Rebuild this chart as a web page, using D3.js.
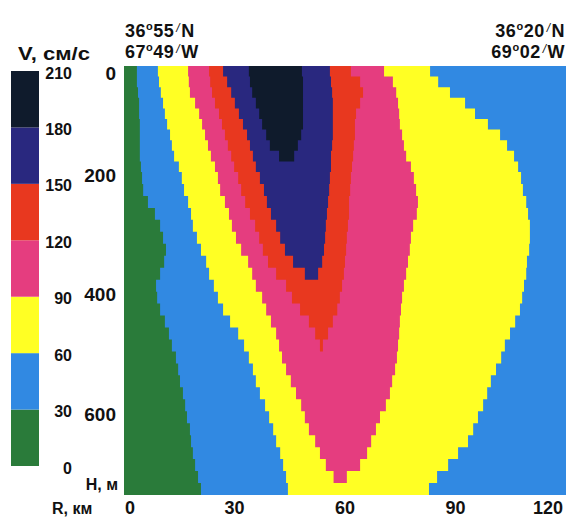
<!DOCTYPE html>
<html>
<head>
<meta charset="utf-8">
<script src="https://cdn.jsdelivr.net/npm/d3@7"></script>
<style>
  body { margin: 0; background: #fff; }
  svg text { font-family: "Liberation Sans", Arial, sans-serif; font-weight: bold; fill: #111; }
</style>
</head>
<body>
<div id="chart"></div>
<script>

////////// DATA //////////

// top of each grid row, m (every row is 20 m deep)
const depthRows = [0, 20, 40, 60, 80, 100, 120, 140, 160, 180, 200, 220, 240, 260, 280, 300, 320, 340, 360,
  380, 400, 420, 440, 460, 480, 500, 520, 540, 560, 580, 600, 620, 640, 660, 680, 700, 720];
const rowStep = 20;

// velocity classes, cm/s
const levels = [0, 30, 60, 90, 120, 150, 180, 210];
const levelColours = ["#2a7b3a", "#3189e2", "#ffff24", "#e53d7f", "#e8381f", "#29287f", "#0f1b2c"];

// range, km, where each isotach crosses a row: left side (L) and right side (R)
// arrays stop where the isotach closes
const iso30L = [3.5, 3.5, 3.8, 4.1, 4.1, 4.3, 4.3, 4.3, 4.3, 4.6, 4.9, 5.2, 6.5, 8.4, 9.8, 10.6, 11.4, 10.9, 9.8,
  8.7, 9.0, 9.8, 11.1, 12.2, 13.0, 14.1, 14.7, 15.2, 16.0, 16.6, 17.1, 17.9, 18.2, 18.7, 19.3, 20.1, 20.9];

const iso60L = [9.2, 9.5, 10.0, 10.6, 11.1, 11.7, 12.5, 13.0, 13.6, 14.9, 15.7, 16.3, 17.4, 18.2, 18.7, 19.8, 20.9,
  22.3, 23.1, 24.4, 25.5, 26.9, 28.8, 31.0, 32.6, 33.9, 35.0, 35.8, 36.9, 38.3, 39.4, 40.5, 41.3, 42.4, 43.2, 44.0, 44.5];
const iso60R = [83.1, 85.3, 88.5, 92.6, 95.3, 98.8, 102.1, 104.0, 105.9, 107.0, 107.8, 108.3, 109.2, 109.7, 110.2,
  110.2, 110.0, 109.4, 109.2, 108.6, 108.1, 107.5, 106.2, 104.8, 103.4, 102.4, 101.0, 99.6, 98.6, 97.5, 96.1, 94.8,
  93.4, 90.7, 88.0, 85.0, 82.8];

const iso90L = [17.4, 17.6, 17.9, 19.3, 20.4, 21.2, 22.0, 22.8, 23.6, 24.7, 25.5, 26.1, 27.4, 28.5, 29.3, 30.4, 31.8,
  33.7, 34.8, 35.8, 37.5, 38.6, 39.9, 41.3, 42.1, 42.9, 44.0, 45.3, 46.7, 48.1, 49.1, 50.2, 51.9, 53.2, 54.8, 56.9];
const iso90R = [70.6, 73.0, 73.9, 74.4, 74.7, 74.9, 75.5, 76.0, 76.6, 77.9, 78.7, 79.3, 79.8, 79.5, 78.5, 77.9, 77.6,
  77.1, 76.6, 76.0, 75.5, 75.2, 74.9, 74.7, 74.4, 74.1, 73.6, 72.8, 72.2, 71.1, 69.5, 68.4, 67.1, 66.0, 64.1, 60.5];

const iso120L = [23.1, 23.4, 23.9, 24.7, 25.8, 26.6, 27.4, 28.2, 29.1, 29.9, 31.0, 31.8, 32.9, 34.2, 35.6, 36.7, 37.7,
  39.1, 41.3, 44.0, 45.6, 47.8, 50.2, 51.9, 53.2];
const iso120R = [61.6, 64.1, 64.9, 64.1, 63.0, 62.7, 62.7, 62.4, 62.2, 61.9, 61.6, 61.4, 61.1, 61.1, 60.8, 60.5, 60.3,
  60.0, 59.7, 59.2, 58.6, 57.9, 56.7, 55.4, 54.0];

const iso150L = [26.9, 28.0, 29.1, 30.1, 31.2, 32.3, 33.4, 34.2, 35.0, 35.8, 36.9, 38.0, 38.8, 39.9, 41.3, 42.4, 43.7,
  45.9, 49.1];
const iso150R = [55.9, 56.2, 56.5, 56.7, 56.7, 56.7, 56.7, 56.5, 56.2, 56.2, 55.9, 55.7, 55.4, 55.1, 54.8, 54.6, 54.3,
  53.8, 52.7];

const iso180L = [33.9, 34.2, 34.8, 35.8, 36.7, 37.5, 38.6, 39.6, 42.1];
const iso180R = [48.3, 48.6, 48.6, 48.6, 48.6, 48.6, 48.1, 47.2, 46.2];

const isotachs = [
  { level: 30, left: iso30L, right: null },
  { level: 60, left: iso60L, right: iso60R },
  { level: 90, left: iso90L, right: iso90R },
  { level: 120, left: iso120L, right: iso120R },
  { level: 150, left: iso150L, right: iso150R },
  { level: 180, left: iso180L, right: iso180R }
];

const rangeTicks = [0, 30, 60, 90, 120];
const depthTicks = [0, 200, 400, 600];


////////// SETUP //////////

const width = 569, height = 518;

const svg = d3.select("#chart")
  .append("svg")
  .attr("width", width)
  .attr("height", height);

let x = d3.scaleLinear()
  .domain([0, 120])
  .range([124, 566]);

// depth axis of the original is not uniform above 200 m
let y = d3.scaleLinear()
  .domain([0, 200, 740])
  .range([66, 172, 495]);

let colour = d3.scaleThreshold()
  .domain(levels.slice(1, -1))
  .range(levelColours);


////////// SECTION //////////

svg.append("clipPath")
  .attr("id", "plot-clip")
  .append("rect")
  .attr("x", x(0))
  .attr("y", y(0))
  .attr("width", x(120) - x(0))
  .attr("height", y(740) - y(0));

let plot = svg.append("g")
  .attr("clip-path", "url(#plot-clip)");

// slowest class fills the whole section
plot.append("rect")
  .attr("x", x(0))
  .attr("y", y(0))
  .attr("width", x(120) - x(0))
  .attr("height", y(740) - y(0))
  .attr("fill", colour(0));

// stepped polygon: left side down the rows, right side back up
function band(left, right) {
  let pts = [];
  left.forEach((v, i) => {
    pts.push([x(v), y(depthRows[i])], [x(v), y(depthRows[i] + rowStep)]);
  });
  for (let i = left.length - 1; i >= 0; i--) {
    let r = right ? right[i] : x.domain()[1];
    pts.push([x(r), y(depthRows[i] + rowStep)], [x(r), y(depthRows[i])]);
  }
  return d3.line()(pts) + "Z";
}

plot.selectAll(".isotach")
  .data(isotachs)
  .enter()
  .append("path")
  .attr("class", "isotach")
  .attr("d", d => band(d.left, d.right))
  .attr("fill", d => colour(d.level));


////////// AXES //////////

svg.append("g")
  .selectAll("text")
  .data(depthTicks)
  .enter()
  .append("text")
  .attr("x", 116)
  .attr("y", d => y(d) + (d === 0 ? 7 : 3))
  .attr("dominant-baseline", "central")
  .attr("text-anchor", "end")
  .style("font-size", "19px")
  .text(d => d);

svg.append("g")
  .selectAll("text")
  .data(rangeTicks)
  .enter()
  .append("text")
  .attr("x", (d, i) => x(d) + (i === 0 ? 1 : (i === rangeTicks.length - 1 ? -3 : 0)))
  .attr("y", 514)
  .attr("text-anchor", (d, i) => i === 0 ? "start" : (i === rangeTicks.length - 1 ? "end" : "middle"))
  .style("font-size", "18px")
  .text(d => d);

svg.append("text")
  .attr("x", 118)
  .attr("y", 490)
  .attr("text-anchor", "end")
  .style("font-size", "16px")
  .text("H, м");

svg.append("text")
  .attr("x", 52)
  .attr("y", 514)
  .style("font-size", "16px")
  .text("R, км");


////////// LEGEND //////////

let yl = d3.scaleLinear()
  .domain([0, 210])
  .range([466, 71]);

let legend = svg.append("g").attr("class", "legend");

legend.selectAll("rect")
  .data(levels.slice(0, -1))
  .enter()
  .append("rect")
  .attr("x", 11)
  .attr("width", 28)
  .attr("y", (d, i) => yl(levels[i + 1]))
  .attr("height", (d, i) => yl(d) - yl(levels[i + 1]))
  .attr("fill", d => colour(d));

legend.selectAll("text")
  .data(levels)
  .enter()
  .append("text")
  .attr("x", 72)
  .attr("y", d => yl(d) + 2)
  .attr("dominant-baseline", "central")
  .attr("text-anchor", "end")
  .style("font-size", "16px")
  .text(d => d);

svg.append("text")
  .attr("x", 18)
  .attr("y", 60)
  .attr("textLength", 72)
  .attr("lengthAdjust", "spacingAndGlyphs")
  .style("font-size", "18px")
  .text("V, см/с");


////////// COORDINATES //////////

function coordLabel(xPos, yPos, anchor, deg, min, hemi) {
  let t = svg.append("text")
    .attr("x", xPos)
    .attr("y", yPos)
    .attr("text-anchor", anchor)
    .style("font-size", "18px")
    .style("letter-spacing", "0.5px");
  t.append("tspan").text(deg);
  t.append("tspan").attr("dy", -7).style("font-size", "11px").text("o");
  t.append("tspan").attr("dy", 7).text(min);
  t.append("tspan").attr("dy", -5).attr("dx", 2).style("font-size", "12px").style("font-weight", "normal")
    .style("font-style", "italic").text("/");
  t.append("tspan").attr("dy", 5).attr("dx", 1).text(hemi);
}

coordLabel(125, 37, "start", "36", "55", "N");
coordLabel(125, 58, "start", "67", "49", "W");
coordLabel(565, 37, "end", "36", "20", "N");
coordLabel(565, 58, "end", "69", "02", "W");

</script>
</body>
</html>
